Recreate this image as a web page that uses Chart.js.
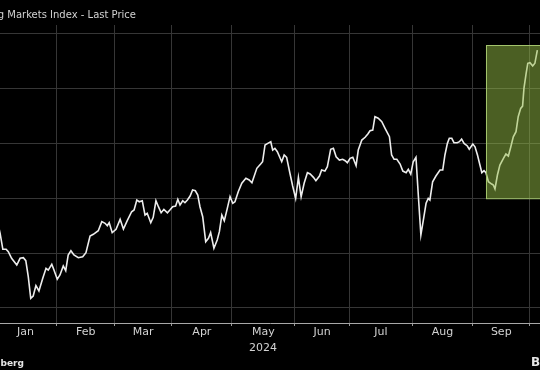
<!DOCTYPE html>
<html>
<head>
<meta charset="utf-8">
<script src="https://cdn.jsdelivr.net/npm/chart.js@4.4.1/dist/chart.umd.min.js"></script>
<style>
html, body { margin: 0; padding: 0; background: #000; }
canvas { display: block; }
</style>
</head>
<body>
<canvas id="chart" width="540" height="370"></canvas>
<script>
// x = trading-day index (0 = Jan 1 2024), y = index level
const sessions = [1.0, 2.2, 3.2, 4.4, 5.2, 6.4, 8.3, 9.5, 10.7, 11.6, 12.5, 13.4, 14.3, 15.3, 16.4, 17.8, 19.0, 19.8, 21.1, 21.9,
  23.1, 24.1, 25.3, 26.2, 27.1, 28.1, 29.2, 30.8, 32.4, 33.6, 35.1, 36.3, 38.1, 39.4, 40.6, 41.4, 42.1, 43.2, 44.6, 46.1,
  47.3, 48.7, 50.3, 51.2, 52.2, 53.1, 54.2, 55.2, 56.0, 57.3, 58.2, 59.2, 60.1, 61.1, 62.1, 63.4, 64.3, 65.3, 66.4, 67.2,
  68.0, 69.0, 69.8, 70.7, 71.7, 72.6, 73.6, 74.5, 75.3, 76.3, 77.4, 78.4, 79.2, 80.4, 81.6, 82.4, 83.3, 84.2, 85.3, 86.3,
  87.3, 88.1, 89.3, 90.6, 92.1, 93.3, 94.3, 96.1, 97.5, 98.2, 99.1, 100.1, 101.2, 101.9, 102.7, 103.6, 105.2, 106.1, 107.0, 108.2,
  109.2, 110.3, 111.3, 112.3, 113.4, 114.6, 115.6, 116.8, 117.7, 119.0, 119.8, 121.0, 121.9, 123.1, 124.1, 125.1, 126.3, 127.5, 128.4, 129.2,
  130.2, 131.2, 132.4, 133.2, 134.5, 135.7, 136.7, 137.5, 138.5, 139.3, 140.5, 141.8, 143.0, 144.6, 145.4, 146.3, 147.3, 148.5, 149.5, 150.7,
  151.5, 152.4, 153.3, 154.3, 155.2, 156.1, 157.0, 158.0, 158.8, 159.4, 160.4, 161.6, 163.1, 164.1, 164.9, 165.8, 166.5, 167.4, 168.2, 169.4,
  170.2, 171.0, 171.9, 173.1, 173.8, 175.1, 175.9, 176.8, 177.7, 178.4, 179.2, 179.9, 180.8, 182.0, 182.6, 183.2, 184.1, 185.0, 186.3, 187.2,
  188.1, 189.0, 189.9, 190.9, 191.7, 192.6, 193.3, 193.8, 194.6, 195.2, 196.0, 197.0, 197.8, 198.7];
const lastPrice = [1031.0, 1017.9, 1003.4, 1003.4, 1001.2, 995.2, 989.1, 995.2, 995.7, 993.0, 978.5, 958.8, 960.9, 970.3, 965.5, 977.0, 986.1, 984.5, 989.7, 984.5,
  976.1, 980.0, 988.2, 983.9, 998.2, 1002.1, 998.2, 995.7, 996.6, 1000.3, 1015.5, 1017.0, 1020.3, 1028.5, 1027.0, 1024.8, 1027.5, 1018.5, 1021.5, 1030.6,
  1021.8, 1029.4, 1037.5, 1039.1, 1048.2, 1046.6, 1047.5, 1034.5, 1036.1, 1027.5, 1032.5, 1047.5, 1042.1, 1036.6, 1039.7, 1036.6, 1039.1, 1042.1, 1042.7, 1048.8,
  1043.6, 1047.5, 1045.7, 1048.2, 1051.8, 1057.3, 1056.6, 1052.7, 1042.1, 1033.0, 1010.3, 1013.4, 1018.5, 1004.3, 1011.8, 1019.4, 1034.5, 1029.4, 1040.6, 1051.2,
  1045.2, 1046.6, 1055.7, 1063.4, 1067.9, 1066.4, 1063.9, 1077.0, 1080.9, 1083.0, 1098.2, 1099.7, 1101.2, 1093.6, 1095.2, 1092.1, 1083.0, 1089.1, 1087.0, 1072.5,
  1060.9, 1049.7, 1068.8, 1051.2, 1063.4, 1073.0, 1071.8, 1068.8, 1065.7, 1070.0, 1075.5, 1074.5, 1078.5, 1094.3, 1095.2, 1087.5, 1084.5, 1085.2, 1083.9, 1082.1,
  1086.1, 1087.0, 1079.4, 1093.6, 1102.7, 1105.2, 1108.2, 1111.2, 1111.8, 1123.9, 1122.5, 1119.4, 1113.4, 1105.7, 1089.1, 1085.2, 1085.2, 1080.9, 1074.5, 1073.0,
  1076.1, 1071.8, 1083.0, 1087.0, 1051.2, 1016.4, 1030.0, 1045.2, 1049.7, 1048.2, 1064.8, 1070.0, 1075.5, 1075.5, 1089.1, 1099.7, 1104.3, 1104.3, 1100.3, 1100.3,
  1101.2, 1103.6, 1099.7, 1097.3, 1094.3, 1099.1, 1096.6, 1089.1, 1080.0, 1073.0, 1074.8, 1073.0, 1064.8, 1062.7, 1061.8, 1058.2, 1070.9, 1080.0, 1086.1, 1090.0,
  1088.2, 1096.6, 1105.7, 1110.3, 1123.9, 1131.5, 1133.6, 1149.7, 1163.4, 1172.5, 1173.0, 1170.0, 1172.5, 1184.5];

const monthNames = ['Jan', 'Feb', 'Mar', 'Apr', 'May', 'Jun', 'Jul', 'Aug', 'Sep'];
const monthStarts = [0, 23, 44, 65, 87, 110, 130, 153, 175, 196];
const priceGrid = [950, 1000, 1050, 1100, 1150, 1200];

// highlighted rally window
const boxFrom = 179.9, boxTo = 210, boxLow = 1049.7, boxHigh = 1189;

const monthLabel = {};
monthNames.forEach((m, i) => { monthLabel[(monthStarts[i] + monthStarts[i + 1]) / 2] = m; });
const boundaries = new Set(monthStarts.slice(1));
const xTicks = monthStarts.slice(1).concat(Object.keys(monthLabel).map(Number)).sort((a, b) => a - b);

const textColor = '#d2d2d2';

const extras = {
	id: 'extras',
	afterDatasetsDraw(chart) {
		const ctx = chart.ctx;
		const x = chart.scales.x, y = chart.scales.y;
		const x0 = x.getPixelForValue(boxFrom), x1 = x.getPixelForValue(boxTo);
		const y0 = y.getPixelForValue(boxHigh), y1 = y.getPixelForValue(boxLow);
		ctx.save();
		ctx.fillStyle = 'rgba(150,190,70,0.5)';
		ctx.fillRect(x0, y0, x1 - x0, y1 - y0);
		ctx.strokeStyle = '#a3c46c';
		ctx.lineWidth = 1;
		ctx.strokeRect(Math.round(x0) + 0.5, Math.round(y0) + 0.5, x1 - x0, y1 - y0);
		ctx.restore();
	},
	afterDraw(chart) {
		const ctx = chart.ctx;
		ctx.save();
		ctx.fillStyle = textColor;
		ctx.textBaseline = 'alphabetic';
		ctx.font = '10px "DejaVu Sans"';
		const pre = ctx.measureText('MSCI Emerging ').width;
		ctx.fillText('MSCI Emerging Markets Index - Last Price', 7.3 - pre, 18);

		ctx.font = '11px "DejaVu Sans"';
		ctx.textAlign = 'center';
		ctx.fillText('2024', 263, 351);

		ctx.textAlign = 'left';
		ctx.fillStyle = '#e6e6e6';
		ctx.font = 'bold 9px "DejaVu Sans"';
		const src = ctx.measureText('Source: Bloom').width;
		ctx.fillText('Source: Bloomberg', 0.5 - src, 366);
		ctx.font = 'bold 12px "DejaVu Sans"';
		ctx.fillText('Bloomberg', 531, 366);
		ctx.restore();
	}
};

const chartElem = document.getElementById('chart');

var chart = new Chart(chartElem, {
	type: 'line',
	data: {
		datasets: [{
			label: 'Last Price',
			data: sessions.map((s, i) => ({ x: s, y: lastPrice[i] })),
			borderColor: '#ededed',
			borderWidth: 1.6,
			pointRadius: 0,
			tension: 0
		}]
	},
	options: {
		responsive: false,
		animation: false,
		layout: { padding: { top: 25, left: 0, right: 0, bottom: 0 } },
		plugins: {
			legend: { display: false },
			tooltip: { enabled: false }
		},
		scales: {
			x: {
				type: 'linear',
				min: 2.16,
				max: 199.67,
				afterBuildTicks: (s) => { s.ticks = xTicks.map(v => ({ value: v })); },
				afterFit: (s) => { s.height = 47; },
				grid: {
					color: (c) => c.tick && boundaries.has(c.tick.value) ? '#363636' : 'rgba(0,0,0,0)',
					tickColor: (c) => c.tick && boundaries.has(c.tick.value) ? '#9a9a9a' : 'rgba(0,0,0,0)',
					tickLength: 3,
					lineWidth: 1
				},
				border: { color: '#a8a8a8', width: 1 },
				ticks: {
					autoSkip: false,
					maxRotation: 0,
					padding: 0,
					color: textColor,
					font: { family: 'DejaVu Sans', size: 11 },
					callback: (v) => monthLabel[v] || ''
				}
			},
			y: {
				position: 'right',
				min: 936.36,
				max: 1207.3,
				afterBuildTicks: (s) => { s.ticks = priceGrid.map(v => ({ value: v })); },
				afterFit: (s) => { s.width = 0; },
				grid: { color: '#363636', drawTicks: false, lineWidth: 1 },
				border: { display: false },
				ticks: { display: false }
			}
		}
	},
	plugins: [extras]
});
</script>
</body>
</html>
